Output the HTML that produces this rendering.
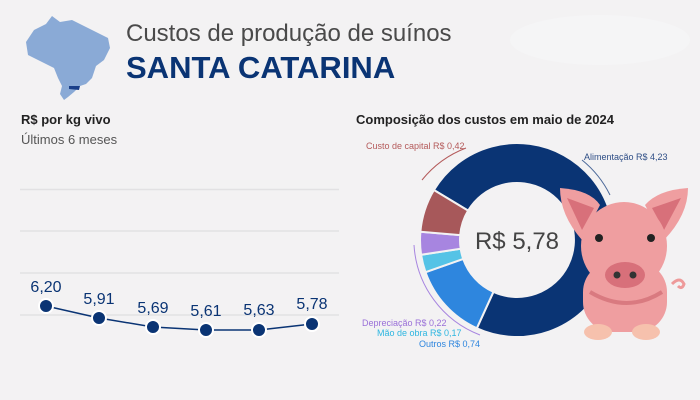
<!DOCTYPE html>
<html><head><meta charset="utf-8"><style>
body{margin:0;background:#f3f2f3;}
svg{display:block;font-family:"Liberation Sans",sans-serif;}
</style></head><body>
<svg width="700" height="400" viewBox="0 0 700 400">
<rect width="700" height="400" fill="#f3f2f3"/>
<ellipse cx="600" cy="40" rx="90" ry="25" fill="#f5f5f6"/>
<!-- Brazil map -->
<path d="M26,42 L34,30 L46,24 L52,16 L60,22 L72,20 L84,26 L96,32 L108,38 L110,48 L104,60 L96,66 L92,78 L86,84 L80,86 L74,92 L68,97 L64,100 L60,94 L62,86 L58,78 L54,68 L42,62 L28,55 Z" fill="#8aaad6"/>
<path d="M69,86 L80,86 L79,90 L69,89 Z" fill="#1a3f8a"/>
<text x="126" y="41" font-size="24" fill="#4a4a4a">Custos de produção de suínos</text>
<text x="126" y="78" font-size="31" font-weight="bold" fill="#0a3474">SANTA CATARINA</text>
<text x="21" y="124" font-size="13" font-weight="bold" fill="#222">R$ por kg vivo</text>
<text x="21" y="144" font-size="13" fill="#555">Últimos 6 meses</text>
<text x="356" y="124" font-size="13" font-weight="bold" fill="#222">Composição dos custos em maio de 2024</text>
<g stroke="#e2e1e3" stroke-width="1.5">
<line x1="20" y1="189.5" x2="339" y2="189.5"/><line x1="20" y1="231" x2="339" y2="231"/>
<line x1="20" y1="273" x2="339" y2="273"/><line x1="20" y1="315" x2="339" y2="315"/>
</g>
<polyline points="46,306 99,318 153,327 206,330 259,330 312,324" fill="none" stroke="#0a3474" stroke-width="1.5"/>
<g fill="#0a3474" stroke="#fff" stroke-width="2">
<circle cx="46" cy="306" r="7"/><circle cx="99" cy="318" r="7"/><circle cx="153" cy="327" r="7"/>
<circle cx="206" cy="330" r="7"/><circle cx="259" cy="330" r="7"/><circle cx="312" cy="324" r="7"/>
</g>
<g font-size="16" fill="#0a3474" text-anchor="middle">
<text x="46" y="292">6,20</text><text x="99" y="304">5,91</text><text x="153" y="313">5,69</text>
<text x="206" y="316">5,61</text><text x="259" y="315">5,63</text><text x="312" y="309">5,78</text>
</g>
<!-- donut -->
<g transform="translate(517,240)" stroke="#f3f2f3" stroke-width="2">
<path d="M-83.1,-50.0 A97,97 0 1 1 -40.2,88.3 L-23.6,51.9 A57,57 0 1 0 -48.9,-29.4 Z" fill="#0a3474"/>
<path d="M-40.2,88.3 A97,97 0 0 1 -91.5,32.2 L-53.8,18.9 A57,57 0 0 0 -23.6,51.9 Z" fill="#2e86de"/>
<path d="M-91.5,32.2 A97,97 0 0 1 -95.9,14.8 L-56.3,8.7 A57,57 0 0 0 -53.8,18.9 Z" fill="#55c3e6"/>
<path d="M-95.9,14.8 A97,97 0 0 1 -96.6,-8.3 L-56.8,-4.9 A57,57 0 0 0 -56.3,8.7 Z" fill="#a785e0"/>
<path d="M-96.6,-8.3 A97,97 0 0 1 -83.1,-50.0 L-48.9,-29.4 A57,57 0 0 0 -56.8,-4.9 Z" fill="#a7585a"/>
</g>
<text x="517" y="249" font-size="24" fill="#444" text-anchor="middle">R$ 5,78</text>
<path d="M422,180 A104,104 0 0 1 466,148" fill="none" stroke="#b45a5a" stroke-width="1"/>
<path d="M582,160 A104,104 0 0 1 610,195" fill="none" stroke="#4d6a9a" stroke-width="1"/>
<path d="M414,245 A103,103 0 0 0 480,335" fill="none" stroke="#a785e0" stroke-width="1"/>
<g font-size="9">
<text x="366" y="149" fill="#b45a5a">Custo de capital R$ 0,42</text>
<text x="584" y="160" fill="#2e4e86">Alimentação R$ 4,23</text>
<text x="362" y="326" fill="#9a70d8">Depreciação R$ 0,22</text>
<text x="377" y="336" fill="#2eb6e0">Mão de obra R$ 0,17</text>
<text x="419" y="347" fill="#2e86de">Outros R$ 0,74</text>
</g>
<!-- pig -->
<path d="M672,284 q8,-8 12,0 q-2,6 -6,2" fill="none" stroke="#ee9a9a" stroke-width="3"/>
<rect x="583" y="262" width="84" height="70" rx="30" fill="#ef9ea0"/>
<path d="M590,292 q37,22 72,0" fill="none" stroke="#d97a80" stroke-width="4"/>
<ellipse cx="598" cy="332" rx="14" ry="8" fill="#f6c1ad"/>
<ellipse cx="646" cy="332" rx="14" ry="8" fill="#f6c1ad"/>
<path d="M560,188 Q590,190 600,205 L582,240 Q560,215 560,188 Z" fill="#ef9ea0"/>
<path d="M688,188 Q658,190 645,205 L664,240 Q688,215 688,188 Z" fill="#ef9ea0"/>
<path d="M567,198 L594,208 L582,230 Z" fill="#d8707a"/>
<path d="M681,198 L652,208 L664,230 Z" fill="#d8707a"/>
<ellipse cx="624" cy="246" rx="43" ry="44" fill="#ef9ea0"/>
<circle cx="599" cy="238" r="4" fill="#222"/><circle cx="651" cy="238" r="4" fill="#222"/>
<ellipse cx="625" cy="275" rx="20" ry="13" fill="#d8707a"/>
<circle cx="617" cy="275" r="3.5" fill="#333"/><circle cx="633" cy="275" r="3.5" fill="#333"/>
</svg>
</body></html>
